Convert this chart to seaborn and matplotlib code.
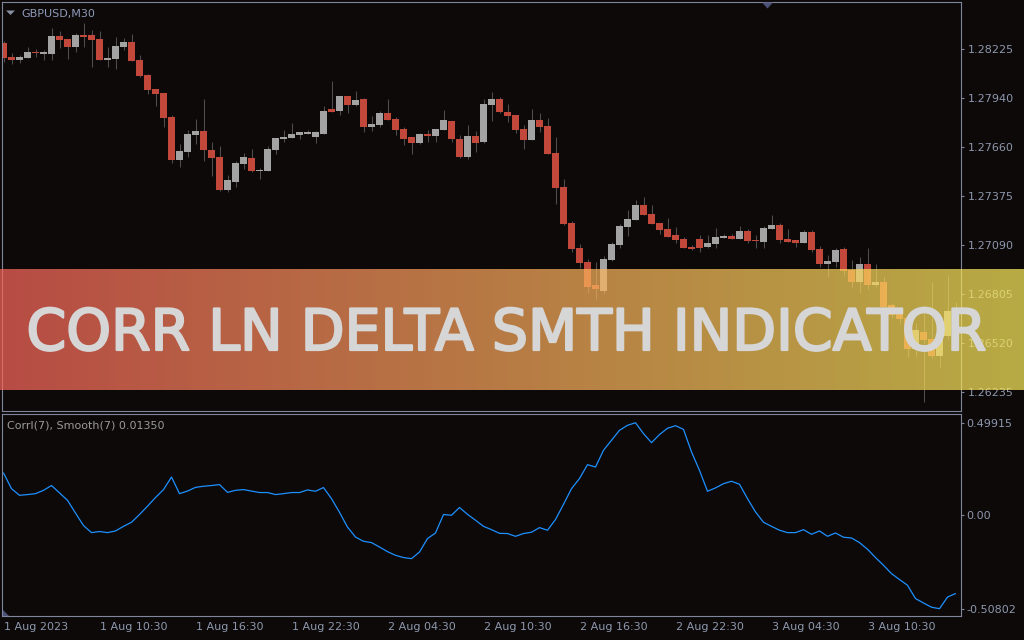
import numpy as np
import pandas as pd
import matplotlib
matplotlib.use("Agg")
import matplotlib.pyplot as plt
import matplotlib.patheffects as pe
import seaborn as sns
from matplotlib.colors import LinearSegmentedColormap
from matplotlib.patches import Polygon

# ---------------- data ----------------
symbol_label = "GBPUSD,M30"
indicator_label = "Corrl(7), Smooth(7) 0.01350"
banner_title = "CORR LN DELTA SMTH INDICATOR"

opens = [1.28263, 1.28180, 1.28163, 1.28176, 1.28211, 1.28199, 1.28199, 1.28302, 1.28285, 1.28240,
         1.28308, 1.28308, 1.28285, 1.28164, 1.28170, 1.28240, 1.28267, 1.28163, 1.28075, 1.27994,
         1.27971, 1.27831, 1.27582, 1.27629, 1.27728, 1.27749, 1.27639, 1.27598, 1.27408, 1.27454,
         1.27559, 1.27592, 1.27518, 1.27518, 1.27641, 1.27705, 1.27711, 1.27726, 1.27732, 1.27716,
         1.27734, 1.27878, 1.27866, 1.27953, 1.27901, 1.27936, 1.27773, 1.27784, 1.27854, 1.27819,
         1.27761, 1.27714, 1.27679, 1.27732, 1.27720, 1.27755, 1.27808, 1.27703, 1.27598, 1.27720,
         1.27685, 1.27901, 1.27936, 1.27860, 1.27843, 1.27761, 1.27697, 1.27814, 1.27779, 1.27621,
         1.27429, 1.27220, 1.27074, 1.26993, 1.26859, 1.26824, 1.27005, 1.27092, 1.27196, 1.27237,
         1.27319, 1.27272, 1.27220, 1.27185, 1.27150, 1.27127, 1.27080, 1.27127, 1.27080, 1.27098,
         1.27132, 1.27144, 1.27127, 1.27173, 1.27121, 1.27109, 1.27185, 1.27208, 1.27127, 1.27121,
         1.27103, 1.27167, 1.27068, 1.26981, 1.26993, 1.27068, 1.26946, 1.26876, 1.26981, 1.26859,
         1.26876, 1.26743, 1.26690, 1.26667, 1.26487, 1.26585, 1.26545, 1.26446, 1.26562, 1.26708]
highs = [1.28273, 1.28202, 1.28192, 1.28238, 1.28227, 1.28221, 1.28349, 1.28332, 1.28285, 1.28318,
         1.28378, 1.28337, 1.28332, 1.28238, 1.28297, 1.28291, 1.28314, 1.28192, 1.28081, 1.27994,
         1.27971, 1.27843, 1.27674, 1.27755, 1.27819, 1.27936, 1.27685, 1.27662, 1.27493, 1.27575,
         1.27621, 1.27645, 1.27536, 1.27664, 1.27709, 1.27755, 1.27796, 1.27744, 1.27755, 1.27749,
         1.27895, 1.28041, 1.27953, 1.27953, 1.27982, 1.27942, 1.27837, 1.27866, 1.27936, 1.27831,
         1.27773, 1.27714, 1.27738, 1.27755, 1.27761, 1.27872, 1.27808, 1.27726, 1.27784, 1.27749,
         1.27936, 1.27976, 1.27947, 1.27907, 1.27843, 1.27784, 1.27878, 1.27854, 1.27825, 1.27714,
         1.27470, 1.27226, 1.27098, 1.27010, 1.26993, 1.27028, 1.27109, 1.27214, 1.27290, 1.27348,
         1.27371, 1.27319, 1.27220, 1.27249, 1.27196, 1.27138, 1.27092, 1.27150, 1.27150, 1.27191,
         1.27156, 1.27156, 1.27202, 1.27185, 1.27150, 1.27202, 1.27266, 1.27220, 1.27185, 1.27121,
         1.27179, 1.27179, 1.27086, 1.27034, 1.27074, 1.27080, 1.27005, 1.27022, 1.27074, 1.26981,
         1.26906, 1.26754, 1.26708, 1.26667, 1.26638, 1.26720, 1.26876, 1.26597, 1.26917, 1.26760]
lows = [1.28153, 1.28141, 1.28147, 1.28176, 1.28182, 1.28163, 1.28164, 1.28234, 1.28169, 1.28209,
        1.28240, 1.28122, 1.28164, 1.28124, 1.28112, 1.28221, 1.28159, 1.28066, 1.27967, 1.27897,
        1.27775, 1.27565, 1.27542, 1.27600, 1.27676, 1.27577, 1.27489, 1.27402, 1.27396, 1.27425,
        1.27530, 1.27513, 1.27472, 1.27518, 1.27617, 1.27687, 1.27711, 1.27703, 1.27732, 1.27681,
        1.27734, 1.27862, 1.27843, 1.27854, 1.27895, 1.27744, 1.27749, 1.27773, 1.27814, 1.27726,
        1.27668, 1.27616, 1.27674, 1.27685, 1.27685, 1.27755, 1.27685, 1.27592, 1.27587, 1.27627,
        1.27679, 1.27808, 1.27854, 1.27802, 1.27738, 1.27645, 1.27697, 1.27744, 1.27616, 1.27325,
        1.27208, 1.27051, 1.26958, 1.26812, 1.26777, 1.26807, 1.26999, 1.27074, 1.27144, 1.27237,
        1.27261, 1.27214, 1.27156, 1.27138, 1.27103, 1.27074, 1.27063, 1.27051, 1.27074, 1.27074,
        1.27132, 1.27127, 1.27127, 1.27103, 1.27074, 1.27074, 1.27185, 1.27103, 1.27109, 1.27080,
        1.27103, 1.27051, 1.26964, 1.26906, 1.26964, 1.26917, 1.26847, 1.26812, 1.26836, 1.26847,
        1.26720, 1.26667, 1.26638, 1.26440, 1.26446, 1.26178, 1.26434, 1.26382, 1.26545, 1.26540]
closes = [1.28176, 1.28164, 1.28180, 1.28209, 1.28203, 1.28209, 1.28302, 1.28281, 1.28240, 1.28308,
          1.28298, 1.28281, 1.28164, 1.28174, 1.28244, 1.28267, 1.28159, 1.28071, 1.27990, 1.27967,
          1.27827, 1.27582, 1.27633, 1.27732, 1.27749, 1.27641, 1.27594, 1.27408, 1.27464, 1.27563,
          1.27598, 1.27518, 1.27524, 1.27645, 1.27709, 1.27716, 1.27732, 1.27744, 1.27744, 1.27744,
          1.27866, 1.27862, 1.27953, 1.27901, 1.27930, 1.27773, 1.27790, 1.27854, 1.27814, 1.27755,
          1.27703, 1.27679, 1.27732, 1.27720, 1.27761, 1.27814, 1.27703, 1.27598, 1.27720, 1.27679,
          1.27907, 1.27936, 1.27860, 1.27837, 1.27755, 1.27697, 1.27814, 1.27773, 1.27616, 1.27418,
          1.27214, 1.27068, 1.26987, 1.26847, 1.26836, 1.27010, 1.27098, 1.27202, 1.27243, 1.27319,
          1.27266, 1.27214, 1.27179, 1.27138, 1.27121, 1.27074, 1.27068, 1.27074, 1.27103, 1.27138,
          1.27144, 1.27127, 1.27173, 1.27115, 1.27115, 1.27191, 1.27208, 1.27121, 1.27109, 1.27103,
          1.27167, 1.27063, 1.26981, 1.26999, 1.27063, 1.26940, 1.26876, 1.26981, 1.26859, 1.26876,
          1.26731, 1.26685, 1.26661, 1.26487, 1.26597, 1.26539, 1.26446, 1.26568, 1.26708, 1.26562]

corr_smooth = [0.227, 0.142, 0.106, 0.110, 0.115, 0.133, 0.159, 0.119, 0.079, 0.010,
               -0.058, -0.096, -0.090, -0.096, -0.087, -0.062, -0.040, 0.002, 0.047, 0.094,
               0.137, 0.205, 0.115, 0.129, 0.149, 0.155, 0.159, 0.164, 0.122, 0.133,
               0.137, 0.129, 0.121, 0.121, 0.110, 0.115, 0.121, 0.121, 0.135, 0.128,
               0.148, 0.088, 0.014, -0.066, -0.120, -0.143, -0.150, -0.174, -0.199, -0.219,
               -0.231, -0.237, -0.201, -0.128, -0.098, 0.002, -0.002, 0.040, 0.003, -0.029,
               -0.062, -0.080, -0.100, -0.101, -0.116, -0.101, -0.094, -0.069, -0.083, -0.025,
               0.057, 0.142, 0.197, 0.272, 0.259, 0.350, 0.404, 0.458, 0.485, 0.499,
               0.440, 0.391, 0.435, 0.469, 0.483, 0.463, 0.341, 0.241, 0.128, 0.146,
               0.169, 0.182, 0.166, 0.088, 0.016, -0.040, -0.062, -0.083, -0.096, -0.096,
               -0.080, -0.105, -0.087, -0.116, -0.098, -0.121, -0.125, -0.150, -0.186, -0.231,
               -0.273, -0.318, -0.350, -0.381, -0.453, -0.477, -0.500, -0.508, -0.445, -0.426]

time_labels = ["1 Aug 2023", "1 Aug 10:30", "1 Aug 16:30", "1 Aug 22:30", "2 Aug 04:30",
               "2 Aug 10:30", "2 Aug 16:30", "2 Aug 22:30", "3 Aug 04:30", "3 Aug 10:30"]
price_ticks = [1.28225, 1.27940, 1.27660, 1.27375, 1.27090, 1.26805, 1.26520, 1.26235]
corr_ticks = [0.49915, 0.0, -0.50802]
corr_tick_labels = ["0.49915", "0.00", "-0.50802"]

# ---------------- style ----------------
BG = "#0c0908"
FRAME = "#80869b"
TICKTXT = "#8e97ad"
BEAR = "#c2483b"
BULL = "#a3a3a3"
WICK = "#4e4e4e"
LINE = "#1e90ff"

sns.set_theme(style="dark", rc={
    "figure.facecolor": BG, "axes.facecolor": BG, "savefig.facecolor": BG,
    "axes.edgecolor": FRAME, "axes.grid": False, "axes.linewidth": 0.8,
    "xtick.color": FRAME, "ytick.color": FRAME,
})
plt.rcParams["font.family"] = ["DejaVu Sans"]

W, H = 1024, 640
fig = plt.figure(figsize=(W / 100, H / 100), dpi=100)


def fx(px):
    return px / W


def fy(py):
    return 1 - py / H


L_PX, R_PX = 2.3, 960.7
ax = fig.add_axes([fx(L_PX), fy(411.3), fx(R_PX - L_PX), (411.3 - 2.3) / H])
axi = fig.add_axes([fx(L_PX), fy(616.0), fx(R_PX - L_PX), (616.0 - 413.7) / H])

df = pd.DataFrame({"open": opens, "high": highs, "low": lows, "close": closes})
df["bar"] = np.arange(len(df))
up = df["close"] >= df["open"]
body_low = np.minimum(df["open"], df["close"])
body_h = np.maximum((df["close"] - df["open"]).abs(), 0.00006)
colors = np.where(up, BULL, BEAR)

xlim = ((L_PX - 3.5) / 8, (R_PX - 3.5) / 8)

ax.vlines(df["bar"], df["low"], df["high"], color=WICK, linewidth=0.75, zorder=1)
ax.bar(df["bar"], body_h, bottom=body_low, width=0.86, color=colors, linewidth=0, zorder=2)
ax.set_xlim(*xlim)
ax.set_ylim(1.261248, 1.284977)
ax.yaxis.tick_right()
ax.set_yticks(price_ticks)
ax.set_yticklabels([f"{v:.5f}" for v in price_ticks])
ax.set_xticks([])
ax.tick_params(axis="y", length=2.5, width=0.8, pad=2.5, labelsize=8, labelcolor=TICKTXT, color=FRAME)
for s in ax.spines.values():
    s.set_color(FRAME)
    s.set_linewidth(0.8)

ind = pd.DataFrame({"bar": np.arange(len(corr_smooth)), "value": corr_smooth})
sns.lineplot(data=ind, x="bar", y="value", ax=axi, color=LINE, linewidth=0.9)
axi.set_xlim(*xlim)
axi.set_ylim(-0.5475, 0.5479)
axi.yaxis.tick_right()
axi.set_yticks(corr_ticks)
axi.set_yticklabels(corr_tick_labels)
axi.set_xticks(np.arange(0, len(corr_smooth), 12))
axi.set_xticklabels(time_labels, ha="left")
axi.set_xlabel("")
axi.set_ylabel("")
axi.tick_params(axis="y", length=2.5, width=0.8, pad=1.5, labelsize=8, labelcolor=TICKTXT, color=FRAME)
axi.tick_params(axis="x", length=3, width=0.8, pad=1.5, labelsize=8, labelcolor=TICKTXT, color=FRAME)
for s in axi.spines.values():
    s.set_color(FRAME)
    s.set_linewidth(0.8)

# small decorative markers (MT4 chrome)
fig.patches.append(Polygon([[fx(6), fy(10.5)], [fx(15), fy(10.5)], [fx(10.5), fy(15)]],
                           closed=True, transform=fig.transFigure, color="#8a90a4", lw=0))
fig.patches.append(Polygon([[fx(762), fy(2.5)], [fx(773), fy(2.5)], [fx(767.5), fy(8.5)]],
                           closed=True, transform=fig.transFigure, color="#4c5277", lw=0))
fig.patches.append(Polygon([[fx(2.5), fy(610)], [fx(2.5), fy(616)], [fx(8.5), fy(616)]],
                           closed=True, transform=fig.transFigure, color="#4c5277", lw=0))

fig.text(fx(21), fy(17), symbol_label, fontsize=8, color="#8f9bb8", va="baseline", ha="left")
fig.text(fx(7), fy(428.5), indicator_label, fontsize=8, color="#9a9a9a", va="baseline", ha="left")

# banner overlay
axb = fig.add_axes([0, fy(389.5), 1, 120.5 / H])
axb.set_zorder(10)
axb.axis("off")
cmap = LinearSegmentedColormap.from_list(
    "banner", [(251 / 255, 103 / 255, 92 / 255), (251 / 255, 236 / 255, 92 / 255)])
axb.imshow(np.linspace(0, 1, 512)[None, :], aspect="auto", cmap=cmap, alpha=0.72,
           extent=[0, 1, 0, 1])
TITLE_C = "#d6d6d6"
fig.text(fx(507), fy(350), banner_title, ha="center", va="baseline", fontsize=41,
         color=TITLE_C, zorder=11,
         path_effects=[pe.withStroke(linewidth=1.6, foreground=TITLE_C)])

fig.savefig("out.png", dpi=100, facecolor=BG)
